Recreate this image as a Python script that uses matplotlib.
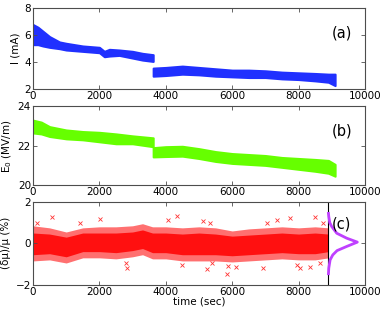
import numpy as np
import matplotlib
matplotlib.use('Agg')
import matplotlib.pyplot as plt

# (a) beam current band (lower / upper edge of the scatter)
a1_t = [0, 150, 300, 500, 800, 1000, 1500, 2000, 2150, 2300, 2600, 3000, 3300, 3620]
a1_lo = [5.3, 5.3, 5.2, 5.1, 5.0, 4.9, 4.8, 4.7, 4.4, 4.45, 4.5, 4.3, 4.15, 4.05]
a1_hi = [6.8, 6.6, 6.3, 5.9, 5.5, 5.4, 5.2, 5.1, 4.8, 4.95, 4.9, 4.8, 4.65, 4.55]
a2_t = [3620, 4000, 4500, 5000, 5500, 6000, 6500, 7000, 7500, 8000, 8500, 8900, 9100]
a2_lo = [2.95, 3.0, 3.1, 3.05, 2.95, 2.9, 2.85, 2.85, 2.75, 2.7, 2.6, 2.5, 2.25]
a2_hi = [3.55, 3.6, 3.7, 3.6, 3.5, 3.4, 3.4, 3.35, 3.25, 3.2, 3.15, 3.1, 3.1]

# (b) gradient E0
b1_t = [0, 250, 500, 1000, 1500, 2000, 2500, 3000, 3620]
b1_lo = [22.65, 22.6, 22.47, 22.35, 22.3, 22.2, 22.1, 22.1, 21.95]
b1_hi = [23.3, 23.2, 22.97, 22.8, 22.72, 22.68, 22.6, 22.5, 22.4]
b2_t = [3620, 4000, 4500, 5000, 5500, 6000, 6500, 7000, 7500, 8000, 8500, 8900, 9100]
b2_lo = [21.43, 21.45, 21.47, 21.35, 21.2, 21.1, 21.05, 21.0, 20.9, 20.8, 20.7, 20.6, 20.45]
b2_hi = [21.9, 21.95, 21.97, 21.85, 21.7, 21.6, 21.55, 21.5, 21.4, 21.35, 21.3, 21.25, 21.05]

# (c) relative fluctuation, outer spread and dense core
c_t = [0, 500, 1000, 1500, 2000, 2500, 3000, 3300, 3600, 4000, 4500, 5000,
       5500, 6000, 6500, 7000, 7500, 8000, 8500, 8900]
c_hi = [0.85, 0.75, 0.55, 0.75, 0.8, 0.8, 0.85, 0.95, 0.8, 0.8, 0.75, 0.8,
        0.75, 0.6, 0.7, 0.75, 0.8, 0.75, 0.8, 0.75]
c_lo = [-0.85, -0.8, -0.95, -0.7, -0.7, -0.75, -0.65, -0.55, -0.75, -0.75, -0.85, -0.85,
        -0.85, -0.9, -0.85, -0.8, -0.75, -0.8, -0.8, -0.7]
c_core_hi = [0.5, 0.45, 0.3, 0.5, 0.5, 0.5, 0.55, 0.65, 0.5, 0.5, 0.45, 0.5,
             0.45, 0.35, 0.4, 0.45, 0.5, 0.45, 0.5, 0.45]
c_core_lo = [-0.55, -0.5, -0.65, -0.4, -0.4, -0.45, -0.35, -0.25, -0.45, -0.45, -0.55, -0.55,
             -0.55, -0.6, -0.55, -0.5, -0.45, -0.5, -0.5, -0.4]
# isolated points outside the band
c_out_t = [111, 563, 1416, 2018, 2800, 2822, 4076, 4327, 4478, 5130, 5231, 5331, 5400,
           5834, 5880, 6114, 6937, 7039, 7340, 7741, 7942, 8042, 8343, 8494, 8644, 8744]
c_out_v = [1.0, 1.29, 0.98, 1.17, -0.95, -1.17, 1.13, 1.34, -1.04, 1.09, -1.23, 1.0, -0.95,
           -1.49, -1.1, -1.12, -1.2, 0.97, 1.13, 1.22, -1.04, -1.2, -1.12, 1.29, -0.96, 0.97]
# histogram drawn sideways from the vertical line
hist_base = 8900
hist_v = [1.45, 1.29, 1.0, 0.81, 0.49, 0.25, 0.06, -0.15, -0.35, -0.56, -0.8, -1.2, -1.47]
hist_w = [0, 10, 40, 100, 250, 550, 870, 550, 260, 130, 50, 10, 0]

blue = '#2030ff'
green = '#66ff00'
red = '#ff0000'

fig = plt.figure(figsize=(3.82, 3.12), dpi=100)
L, W = 0.0864, 0.869
ax1 = fig.add_axes([L, 0.715, W, 0.258])
ax2 = fig.add_axes([L, 0.407, W, 0.252])
ax3 = fig.add_axes([L, 0.0875, W, 0.265])

ax1.fill_between(a1_t, a1_lo, a1_hi, color=blue, lw=1.5)
ax1.fill_between(a2_t, a2_lo, a2_hi, color=blue, lw=1.5)
ax1.set_ylim(2, 8)
ax1.set_yticks([2, 4, 6, 8])
ax1.set_ylabel('I (mA)', labelpad=3)
ax1.text(0.93, 0.70, '(a)', transform=ax1.transAxes, fontsize=10.5, ha='center', va='center')

ax2.fill_between(b1_t, b1_lo, b1_hi, color=green, lw=1.5)
ax2.fill_between(b2_t, b2_lo, b2_hi, color=green, lw=1.5)
ax2.set_ylim(20, 24)
ax2.set_yticks([20, 22, 24])
ax2.set_ylabel('E$_0$ (MV/m)', labelpad=3)
ax2.text(0.93, 0.69, '(b)', transform=ax2.transAxes, fontsize=10.5, ha='center', va='center')

ax3.fill_between(c_t, c_lo, c_hi, color='#ff7070', lw=0)
ax3.fill_between(c_t, c_core_lo, c_core_hi, color='#ff1010', lw=0)
ax3.plot(c_out_t, c_out_v, 'x', color=red, ms=2.5, mew=0.6, alpha=0.8)
ax3.axvline(hist_base, color='k', lw=0.8)
ax3.plot(np.array(hist_w) + hist_base, hist_v, color='#bf40ff', lw=2)
ax3.set_ylim(-2, 2)
ax3.set_yticks([-2, 0, 2])
ax3.set_ylabel('(δμ)/μ (%)', labelpad=3)
ax3.set_xlabel('time (sec)', labelpad=0)
ax3.text(0.93, 0.73, '(c)', transform=ax3.transAxes, fontsize=10.5, ha='center', va='center')

for ax in (ax1, ax2, ax3):
    ax.set_xlim(0, 10000)
    ax.set_xticks([0, 2000, 4000, 6000, 8000, 10000])
    ax.tick_params(direction='in', top=True, right=True, length=3, width=0.6,
                   labelsize=7.5, pad=1.5, colors='0.3', labelcolor='k')
    for s in ax.spines.values():
        s.set_linewidth(0.8)
        s.set_color('0.3')
    ax.yaxis.label.set_size(7.5)
    ax.xaxis.label.set_size(7.5)

fig.savefig('out.png', dpi=100)
